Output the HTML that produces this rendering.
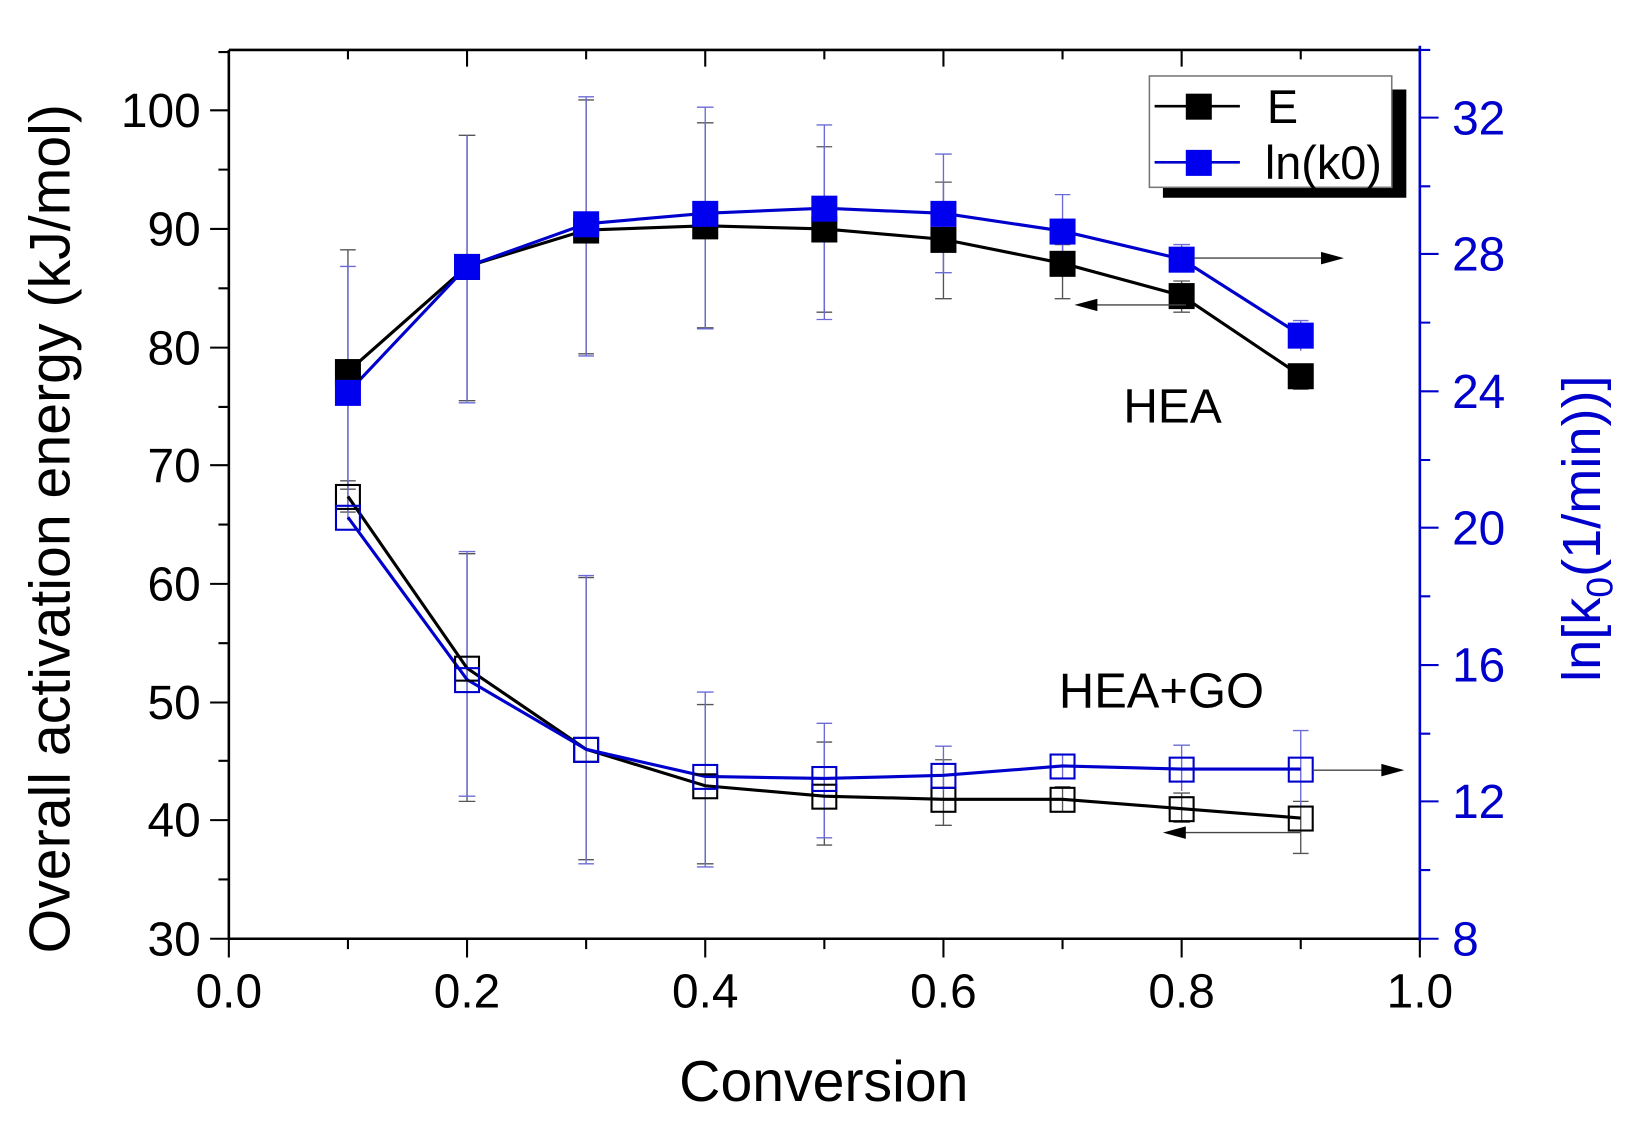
<!DOCTYPE html>
<html><head><meta charset="utf-8"><style>html,body{margin:0;padding:0;background:#fff}svg{display:block}</style></head>
<body>
<svg width="1631" height="1124" viewBox="0 0 1568 1080" preserveAspectRatio="none" xmlns="http://www.w3.org/2000/svg" font-family="Liberation Sans, sans-serif">
<rect width="1568" height="1080" fill="#fff"/>
<g stroke="#555" stroke-width="1.3">
<path d="M334.5 240V470M327 240h15M327 470h15"/>
<path d="M449 130V385M441 130h16M441 385h16"/>
<path d="M563.5 96V340M556 96h15M556 340h15"/>
<path d="M678 118V315M670 118h16M670 315h16"/>
<path d="M792.5 141V300M785 141h15M785 300h15"/>
<path d="M907 175V287M899 175h16M899 287h16"/>
<path d="M1021.5 235V287M1014 235h15M1014 287h15"/>
<path d="M1136 270V300M1128 270h16M1128 300h16"/>
<path d="M1250.5 350V374M1243 350h15M1243 374h15"/>
<path d="M334.5 462V492M327 462h15M327 492h15"/>
<path d="M449 532V770M441 532h16M441 770h16"/>
<path d="M563.5 555V826M556 555h15M556 826h15"/>
<path d="M678 677V830M670 677h16M670 830h16"/>
<path d="M792.5 713V812M785 713h15M785 812h15"/>
<path d="M907 730V793M899 730h16M899 793h16"/>
<path d="M1021.5 756V780M1014 756h15"/>
<path d="M1136 762V790M1128 762h16M1128 790h16"/>
<path d="M1250.5 770V820M1243 770h15M1243 820h15"/>
</g>
<g stroke="#6b6bd6" stroke-width="1.3">
<path d="M334.5 256V500M327 256h15"/>
<path d="M449 130V387M441 387h16"/>
<path d="M563.5 93V342M556 93h15M556 342h15"/>
<path d="M678 103V316M670 103h16M670 316h16"/>
<path d="M792.5 120V307M785 120h15M785 307h15"/>
<path d="M907 148V262M899 148h16M899 262h16"/>
<path d="M1021.5 187V262M1014 187h15"/>
<path d="M1136 235V262M1128 235h16"/>
<path d="M1250.5 308V337M1243 308h15"/>
<path d="M449 530V765M441 530h16M441 765h16"/>
<path d="M563.5 553V830M556 553h15M556 830h15"/>
<path d="M678 665V833M670 665h16M670 833h16"/>
<path d="M792.5 695V805M785 695h15M785 805h15"/>
<path d="M907 717V760M899 717h16"/>
<path d="M1021.5 724V748M1014 736h15"/>
<path d="M1136 716V760M1128 716h16"/>
<path d="M1250.5 702V775M1243 702h15"/>
</g>
<g fill="none" stroke-width="3">
<polyline stroke="#000" points="334.5,357 449,256 563.5,221 678,217 792.5,220 907,230 1021.5,253 1136,284 1250.5,361"/>
<polyline stroke="#0000cc" points="334.5,377 449,256 563.5,215 678,205 792.5,200 907,205 1021.5,222 1136,249 1250.5,322"/>
<polyline stroke="#000" points="334.5,477 449,642 563.5,720 678,755 792.5,765 907,768 1021.5,768 1136,777 1250.5,786"/>
<polyline stroke="#0000cc" points="334.5,497 449,653 563.5,720 678,746 792.5,748 907,745 1021.5,736 1136,739 1250.5,739"/>
</g>
<g fill="#000">
<rect x="322" y="345" width="25" height="25"/><rect x="436.5" y="244" width="25" height="25"/><rect x="551" y="209" width="25" height="25"/><rect x="665.5" y="205" width="25" height="25"/><rect x="780" y="208" width="25" height="25"/><rect x="894.5" y="218" width="25" height="25"/><rect x="1009" y="241" width="25" height="25"/><rect x="1123.5" y="272" width="25" height="25"/><rect x="1238" y="349" width="25" height="25"/>
</g>
<g fill="#0000ee">
<rect x="322" y="365" width="25" height="25"/><rect x="436.5" y="244" width="25" height="25"/><rect x="551" y="203" width="25" height="25"/><rect x="665.5" y="193" width="25" height="25"/><rect x="780" y="188" width="25" height="25"/><rect x="894.5" y="193" width="25" height="25"/><rect x="1009" y="210" width="25" height="25"/><rect x="1123.5" y="237" width="25" height="25"/><rect x="1238" y="310" width="25" height="25"/>
</g>
<g fill="none" stroke="#000" stroke-width="2">
<rect x="323" y="466" width="23" height="23"/><rect x="437.5" y="631" width="23" height="23"/><rect x="552" y="709" width="23" height="23"/><rect x="666.5" y="744" width="23" height="23"/><rect x="781" y="754" width="23" height="23"/><rect x="895.5" y="757" width="23" height="23"/><rect x="1010" y="757" width="23" height="23"/><rect x="1124.5" y="766" width="23" height="23"/><rect x="1239" y="775" width="23" height="23"/>
</g>
<g fill="none" stroke="#0000cc" stroke-width="2">
<rect x="323" y="486" width="23" height="23"/><rect x="437.5" y="642" width="23" height="23"/><rect x="552" y="709" width="23" height="23"/><rect x="666.5" y="735" width="23" height="23"/><rect x="781" y="737" width="23" height="23"/><rect x="895.5" y="734" width="23" height="23"/><rect x="1010" y="725" width="23" height="23"/><rect x="1124.5" y="728" width="23" height="23"/><rect x="1239" y="728" width="23" height="23"/>
</g>
<g stroke="#444" stroke-width="1.3">
<path d="M1148 248H1275M1140 293H1050M1262 740H1330M1250 800H1135"/>
</g>
<g fill="#000">
<path d="M1292 248l-22-6v12z"/><path d="M1033 293l22-6v12z"/><path d="M1350 740l-22-6v12z"/><path d="M1118 800l22-6v12z"/>
</g>
<g stroke="#000" stroke-width="2.5" fill="none">
<path d="M220 48V902H1365M220 48H1365"/>
</g>
<g stroke="#000" stroke-width="2">
<path d="M220 902v18M334.5 902v10M449 902v18M563.5 902v10M678 902v18M792.5 902v10M907 902v18M1021.5 902v10M1136 902v18M1250.5 902v10M1365 902v18"/>
<path d="M220 48v16M334.5 48v9M449 48v16M563.5 48v9M678 48v16M792.5 48v9M907 48v16M1021.5 48v9M1136 48v16M1250.5 48v9"/>
<path d="M202 902h18M210 845h10M202 788h18M210 731h10M202 675h18M210 618h10M202 561h18M210 504h10M202 447h18M210 391h10M202 334h18M210 277h10M202 220h18M210 163h10M202 106h18M210 50h10"/>
</g>
<g stroke="#0000cc" stroke-width="2.5"><path d="M1365 44V904"/></g>
<g stroke="#0000cc" stroke-width="2">
<path d="M1365 902h18M1365 836h10M1365 770h18M1365 705h10M1365 639h18M1365 573h10M1365 507h18M1365 442h10M1365 376h18M1365 310h10M1365 244h18M1365 179h10M1365 113h18M1365 48h10"/>
</g>
<g font-size="46" fill="#000" text-anchor="end">
<text x="193" y="918">30</text><text x="193" y="804">40</text><text x="193" y="691">50</text><text x="193" y="577">60</text><text x="193" y="463">70</text><text x="193" y="350">80</text><text x="193" y="236">90</text><text x="193" y="122">100</text>
</g>
<g font-size="46" fill="#000" text-anchor="middle">
<text x="220" y="968">0.0</text><text x="449" y="968">0.2</text><text x="678" y="968">0.4</text><text x="907" y="968">0.6</text><text x="1136" y="968">0.8</text><text x="1365" y="968">1.0</text>
</g>
<g font-size="46" fill="#0000cc">
<text x="1396" y="918">8</text><text x="1396" y="786">12</text><text x="1396" y="655">16</text><text x="1396" y="523">20</text><text x="1396" y="392">24</text><text x="1396" y="260">28</text><text x="1396" y="129">32</text>
</g>
<text x="792" y="1058" font-size="55" text-anchor="middle">Conversion</text>
<text transform="translate(67,508) rotate(-90)" font-size="55" text-anchor="middle">Overall activation energy (kJ/mol)</text>
<text transform="translate(1538,508) rotate(-90)" font-size="52" text-anchor="middle" fill="#0000cc">ln[k<tspan font-size="36" dy="12">0</tspan><tspan dy="-12">(1/min))]</tspan></text>
<text x="1080" y="406" font-size="46">HEA</text>
<text x="1018" y="680" font-size="47">HEA+GO</text>
<rect x="1118" y="86" width="234" height="104" fill="#000"/>
<rect x="1105" y="73" width="233" height="107" fill="#fff" stroke="#777" stroke-width="1.5"/>
<path d="M1110 102H1192" stroke="#000" stroke-width="2.5"/>
<rect x="1140" y="90" width="25" height="25" fill="#000"/>
<path d="M1110 156H1192" stroke="#0000cc" stroke-width="2.5"/>
<rect x="1140" y="144" width="25" height="25" fill="#0000ee"/>
<text x="1218" y="118" font-size="45">E</text>
<text x="1216" y="172" font-size="45">ln(k0)</text>
</svg>
</body></html>
